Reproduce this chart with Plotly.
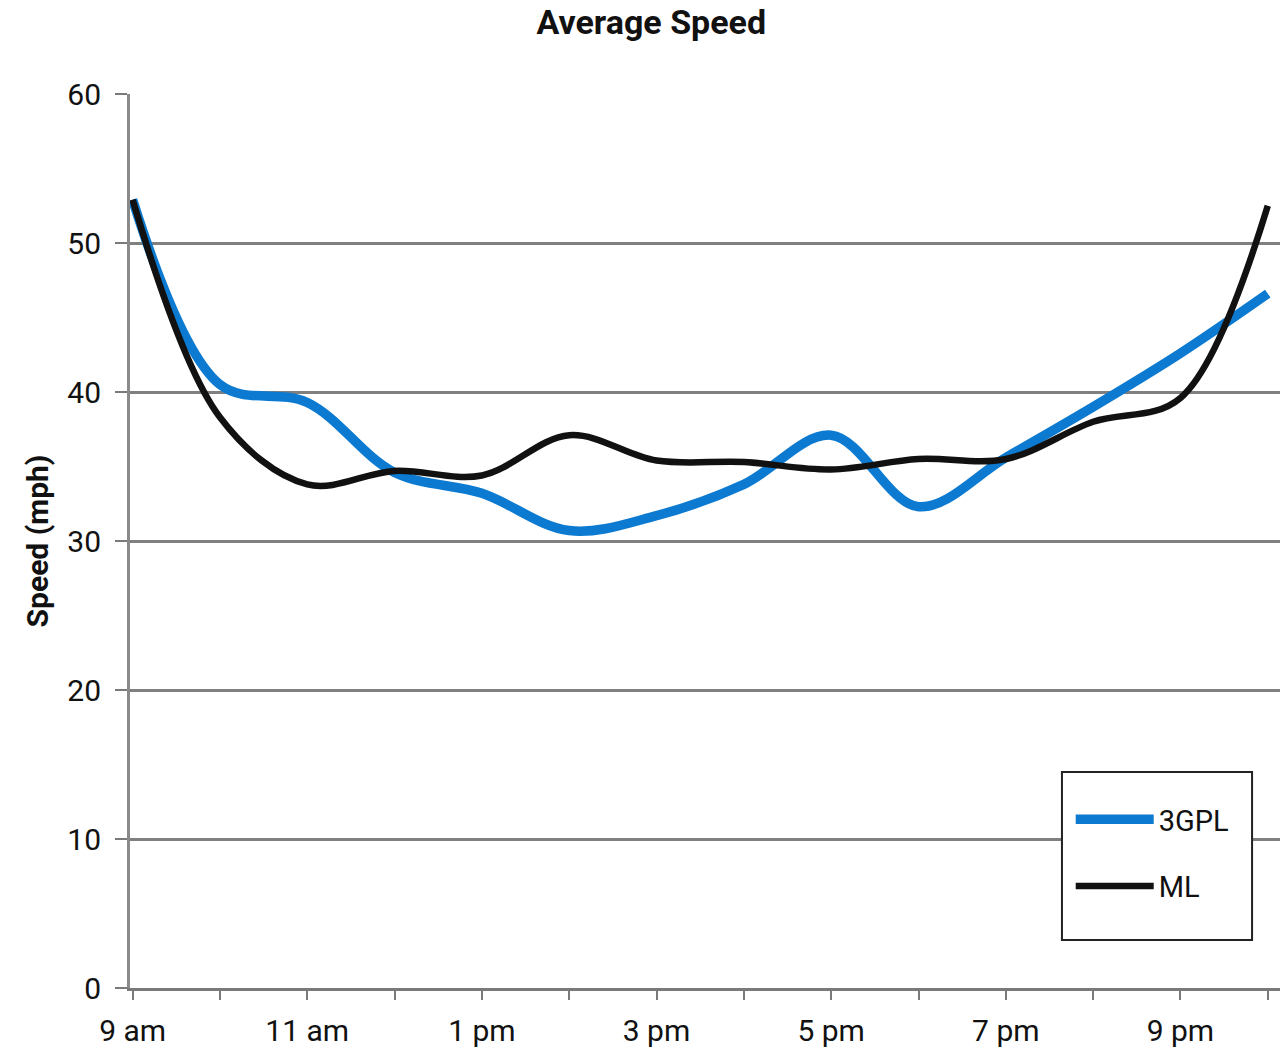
import plotly.graph_objects as go

hours = [9, 10, 11, 12, 13, 14, 15, 16, 17, 18, 19, 20, 21, 22]
speed_3gpl = [52.9, 40.5, 39.3, 34.6, 33.2, 30.7, 31.7, 33.8, 37.1, 32.3, 35.6, 39.0, 42.6, 46.6]
speed_ml = [52.9, 38.3, 33.8, 34.7, 34.4, 37.1, 35.4, 35.3, 34.8, 35.5, 35.5, 38.0, 39.6, 52.5]
tick_hours = [9, 10, 11, 12, 13, 14, 15, 16, 17, 18, 19, 20, 21, 22]
tick_labels = ["9 am", "", "11 am", "", "1 pm", "", "3 pm", "", "5 pm", "", "7 pm", "", "9 pm", ""]
y_ticks = [0, 10, 20, 30, 40, 50, 60]

FONT = "Roboto, Liberation Sans, sans-serif"
TXT = "#111111"

fig = go.Figure()
fig.add_trace(go.Scatter(x=hours, y=speed_3gpl, name="3GPL", mode="lines", legendgroup="a",
                         line=dict(color="#0b7ad0", width=9.5, shape="spline", smoothing=1.0)))
fig.add_trace(go.Scatter(x=hours, y=speed_ml, name="ML", mode="lines", legendgroup="b",
                         line=dict(color="#111111", width=6.5, shape="spline", smoothing=1.0)))

# legend frame
fig.add_shape(type="rect", xref="paper", yref="paper",
              x0=0.8104, x1=0.9757, y0=0.0537, y1=0.2416,
              fillcolor="white", line=dict(color="#222222", width=2), layer="above")

fig.update_layout(
    width=1282, height=1050,
    margin=dict(l=130, r=2, t=94, b=62),
    paper_bgcolor="white", plot_bgcolor="white",
    font=dict(family=FONT, size=30, color=TXT),
    title=dict(text="<b>Average Speed</b>", x=0.508, xanchor="center", y=0.979, yanchor="middle",
               font=dict(family=FONT, size=34, color=TXT)),
    showlegend=True,
    legend=dict(x=0.818, xanchor="left", y=0.217, yanchor="top",
                bgcolor="rgba(0,0,0,0)", borderwidth=0,
                font=dict(family=FONT, size=29, color=TXT),
                itemwidth=78, tracegroupgap=26),
)

fig.update_xaxes(
    range=[8.97, 22.14],
    tickmode="array", tickvals=tick_hours, ticktext=tick_labels,
    ticks="outside", ticklen=9, tickwidth=2, tickcolor="#7a7a7a",
    showgrid=False, showline=True, linecolor="#7a7a7a", linewidth=3,
    tickfont=dict(family=FONT, size=30, color=TXT), ticklabelstandoff=5,
    zeroline=False,
)
fig.update_yaxes(
    range=[0, 60],
    tickmode="array", tickvals=y_ticks,
    ticks="outside", ticklen=12, tickwidth=2, tickcolor="#7a7a7a",
    showgrid=True, gridcolor="#808080", gridwidth=3,
    showline=True, linecolor="#8a8a8a", linewidth=3,
    tickfont=dict(family=FONT, size=30, color=TXT), ticklabelstandoff=8,
    title=dict(text="<b>Speed (mph)</b>", font=dict(family=FONT, size=30, color=TXT), standoff=10),
    zeroline=False,
)

fig.write_html("out.html")
